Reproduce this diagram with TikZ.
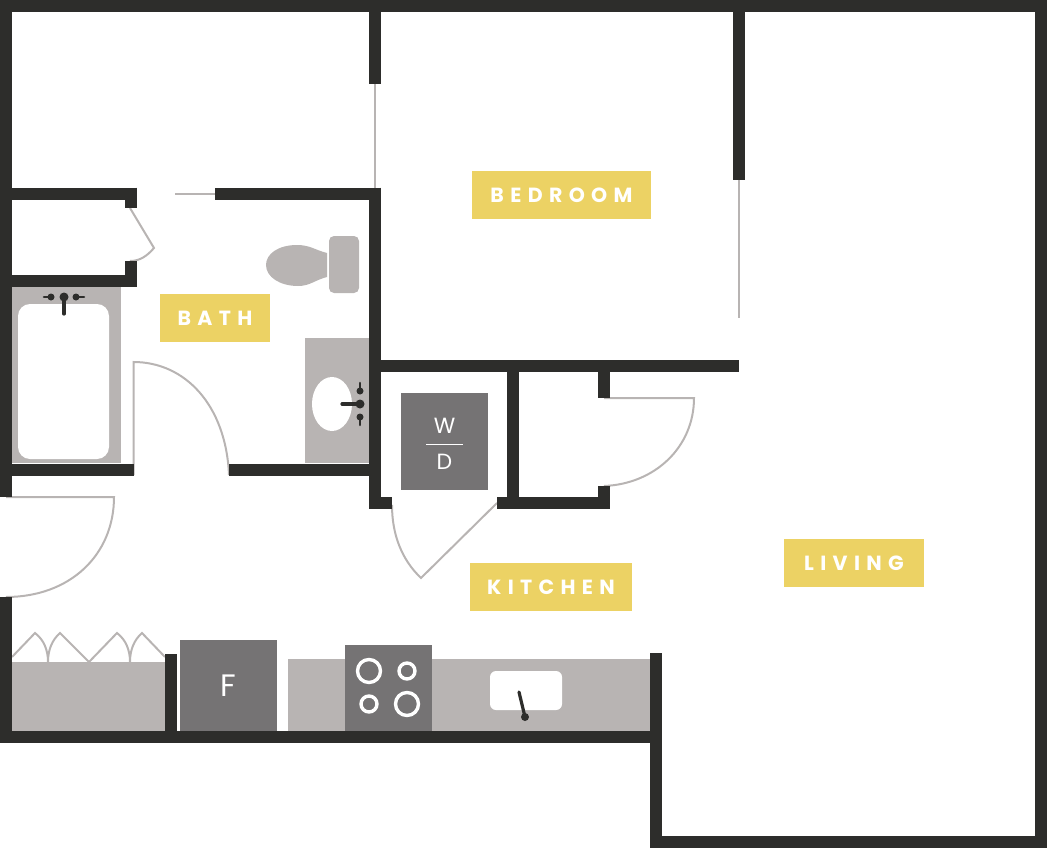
\documentclass[tikz,border=0pt]{standalone}
\usepackage{fontspec}
\setmainfont{Poppins}
\newfontfamily\roomfont[LetterSpace=31]{Poppins}
\usetikzlibrary{positioning}
\definecolor{wallc}{HTML}{2D2D2B}
\definecolor{fixc}{HTML}{B8B4B3}
\definecolor{applc}{HTML}{757374}
\definecolor{labelc}{HTML}{ECD264}
\tikzset{
    wall/.style={line width=12pt, color=wallc},
    doorline/.style={line width=2pt, color=fixc},
    fixture/.style={fill=fixc, draw=none},
    appliance/.style={fill=applc, draw=none},
    basin/.style={fill=white, draw=none},
    tap/.style={line width=3.2pt, color=wallc, line cap=round},
    handle/.style={line width=2.6pt, color=wallc, line cap=round},
    burner/.style={draw=white, line width=3.4pt, fill=none},
    roomlabel/.style={fill=labelc, text=white, minimum height=48pt, inner sep=0pt,
        font=\roomfont\bfseries\fontsize{20.5}{20.5}\selectfont},
    appltext/.style={text=white, inner sep=0pt, font=\fontsize{22}{22}\selectfont},
}
\begin{document}
\begin{tikzpicture}[x=1pt,y=-1pt]
\useasboundingbox (0,0) rectangle (1047,848);

    % fixtures
    \fill[fixture] (12,287) rectangle (121,463);
    \fill[basin, rounded corners=12pt] (18,304) rectangle (109,459);
    \fill[fixture] (305,338) rectangle (369,463);
    \fill[basin] (332,404) ellipse [x radius=20, y radius=27];
    \fill[fixture, rounded corners=5pt] (329,236) rectangle (359,293);
    \fill[fixture] (327,253) .. controls (315,250) and (310,245) .. (297,245)
        .. controls (278,245) and (266,254) .. (266,265)
        .. controls (266,277) and (280,286) .. (298,286)
        .. controls (310,286) and (315,280) .. (327,277) -- cycle;
    \fill[fixture] (12,662) rectangle (165,731);
    \fill[fixture] (288,659) rectangle (650,731);
    \fill[basin, rounded corners=6pt] (490,671) rectangle (562,710);

    % appliances
    \node[appliance, minimum width=97pt, minimum height=91pt, inner sep=0pt, anchor=north west, appltext, font=\fontsize{31}{31}\selectfont] (fridge) at (180,640) {F};
    \fill[appliance] (345,645) rectangle (432,731);
    \node[appliance, minimum width=87pt, minimum height=97pt, inner sep=0pt, anchor=north west] (washer) at (401,393) {};
    \node[appltext] (washerW) at (444.5,426) {W};
    \node[appltext] (washerD) at (444.5,462) {D};
    \draw[white, line width=0.8pt] (426,444.5) -- (463,444.5);

    \foreach \x/\y/\r in {369/671/11.5, 407/671/8, 369/704/8, 407/704/11.5}
    \draw[burner] (\x,\y) circle [radius=\r];

    % taps
    \draw[tap] (64,297) -- (64,314);
    \fill[wallc] (64,297) circle [radius=4.5];
    \draw[handle] (44,297) -- (52,297);
    \draw[handle] (75,297) -- (84,297);
    \fill[wallc] (51,297) circle [radius=3.5];
    \fill[wallc] (76,297) circle [radius=3.5];
    \draw[tap] (342,404) -- (360,404);
    \fill[wallc] (360,404) circle [radius=4.5];
    \draw[handle] (360,383) -- (360,391);
    \draw[handle] (360,417) -- (360,425);
    \fill[wallc] (360,391) circle [radius=3.5];
    \fill[wallc] (360,417) circle [radius=3.5];
    \draw[tap] (519,692) -- (525,717);
    \fill[wallc] (525,717) circle [radius=4];

    % doors and sliders
    \draw[doorline] (375,84) -- (375,188);
    \draw[doorline] (739,180) -- (739,318);
    \draw[doorline] (175,193.5) -- (215,193.5);
    \draw[doorline] (130,208) -- (154,248) .. controls (147,256) and (140,261) .. (130,261);
    \draw[doorline] (133.5,475) -- (133.5,362) .. controls (185,362) and (226,405) .. (229,475);
    \draw[doorline] (6,497) -- (114,497) .. controls (114,555) and (70,597) .. (6,597);
    \draw[doorline] (392,505) .. controls (392,535) and (402,560) .. (421,578) -- (497,503);
    \draw[doorline] (604,398) -- (694,398) .. controls (694,447) and (655,484) .. (604,486);
    \draw[doorline] (12,657) -- (35,633) .. controls (44,640) and (48,650) .. (48,662)
        .. controls (48,650) and (52,640) .. (60,633) -- (89,662) -- (117,633)
        .. controls (126,640) and (130,650) .. (130,662)
        .. controls (130,650) and (134,640) .. (142,633) -- (165,657);

    % walls
    \draw[wall] (0,6) -- (1047,6);
    \draw[wall] (1041,0) -- (1041,848);
    \draw[wall] (650,842) -- (1047,842);
    \draw[wall] (656,653) -- (656,848);
    \draw[wall] (0,737) -- (662,737);
    \draw[wall] (6,0) -- (6,497);
    \draw[wall] (6,597) -- (6,743);
    \draw[wall] (171,654) -- (171,743);
    \draw[wall] (375,0) -- (375,84);
    \draw[wall] (739,0) -- (739,180);
    \draw[wall] (0,193.5) -- (137,193.5);
    \draw[wall] (131,187.5) -- (131,208);
    \draw[wall] (131,261) -- (131,286.5);
    \draw[wall] (0,280.5) -- (137,280.5);
    \draw[wall] (215,193.5) -- (381,193.5);
    \draw[wall] (375,187.5) -- (375,508.5);
    \draw[wall] (0,469.5) -- (133.5,469.5);
    \draw[wall] (229,469.5) -- (381,469.5);
    \draw[wall] (369,365.5) -- (739,365.5);
    \draw[wall] (513,360) -- (513,508.5);
    \draw[wall] (497,502.5) -- (610,502.5);
    \draw[wall] (604,486) -- (604,508.5);
    \draw[wall] (604,360) -- (604,398);
    \draw[wall] (369,502.5) -- (392,502.5);

    % rooms
    \node[roomlabel, minimum width=179pt] (bedroom) at (561.5,195) {BEDROOM};
    \node[roomlabel, minimum width=110pt] (bath) at (215,318) {BATH};
    \node[roomlabel, minimum width=162pt] (kitchen) at (551,587) {KITCHEN};
    \node[roomlabel, minimum width=140pt] (living) at (854,563) {LIVING};
\end{tikzpicture}
\end{document}
